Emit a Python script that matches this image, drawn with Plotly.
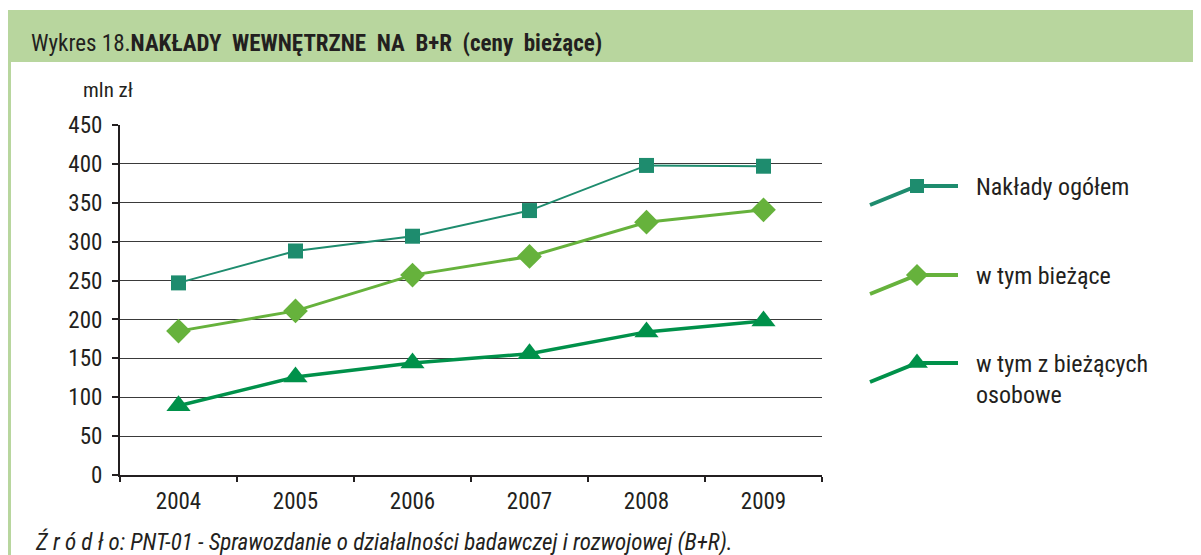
import plotly.graph_objects as go

W, H = 1201, 555
OFF = 8  # browser body margin: page px = figure px + OFF

years = ["2004", "2005", "2006", "2007", "2008", "2009"]
naklady_ogolem = [247, 288, 307, 340, 398, 397]
w_tym_biezace = [185, 211, 257, 281, 325, 341]
w_tym_osobowe = [89, 126, 144, 156, 184, 198]

series_names = ["Nakłady ogółem", "w tym bieżące", "w tym z bieżących<br>osobowe"]
y_ticks = [0, 50, 100, 150, 200, 250, 300, 350, 400, 450]

FONT = "Liberation Sans Narrow, Arial Narrow, Roboto Condensed, Liberation Sans, sans-serif"
TEXT = "#231f20"
C1, C2, C3 = "#1e8c6e", "#66b23c", "#00914a"
HEADER = "#b8d69e"


def px(v):
    return v - OFF


# plot area in page pixels
PL, PR, PT, PB = px(120), px(822), px(125), px(475)

fig = go.Figure()

# (values, colour, line width, symbol, plot marker size, legend marker size)
styles = [
    (naklady_ogolem, C1, 2, "square", 15, 14),
    (w_tym_biezace, C2, 3, "diamond", 19, 17),
    (w_tym_osobowe, C3, 3.5, "triangle-up", 21, 19),
]
for (vals, col, lw, sym, ms, lms), name in zip(styles, series_names):
    fig.add_trace(go.Scatter(
        x=years, y=vals, mode="lines+markers", name=name,
        line=dict(color=col, width=lw),
        marker=dict(symbol=sym, size=ms, color=col, line=dict(width=0)),
        showlegend=False, xaxis="x", yaxis="y", cliponaxis=False,
    ))

# legend built on a full-figure pixel axis
leg_rows = [186, 275, 363]
for (vals, col, lw, sym, ms, lms), ry in zip(styles, leg_rows):
    fig.add_trace(go.Scatter(
        x=[px(870), px(917), px(958)], y=[px(ry + 19), px(ry), px(ry)], mode="lines",
        line=dict(color=col, width=4), showlegend=False,
        xaxis="x2", yaxis="y2", hoverinfo="skip",
    ))
    fig.add_trace(go.Scatter(
        x=[px(917)], y=[px(ry)], mode="markers",
        marker=dict(symbol=sym, size=lms, color=col, line=dict(width=0)),
        showlegend=False, xaxis="x2", yaxis="y2", hoverinfo="skip",
    ))

annotations = []
for name, ry in zip(series_names, leg_rows):
    annotations.append(dict(
        x=px(974), y=px(ry - 15), xref="x2", yref="y2", text=name, showarrow=False,
        xanchor="left", yanchor="top", align="left",
        font=dict(family=FONT, size=24, color=TEXT),
    ))

annotations += [
    dict(x=px(29), y=px(43), xref="x2", yref="y2", showarrow=False, xanchor="left", yanchor="middle",
         text="Wykres 18.<b>NAKŁADY&#160; WEWNĘTRZNE&#160; NA&#160; B+R&#160; (ceny&#160; bieżące)</b>",
         font=dict(family=FONT, size=23, color=TEXT)),
    dict(x=px(81), y=px(90), xref="x2", yref="y2", showarrow=False, xanchor="left", yanchor="middle",
         text="mln zł", font=dict(family=FONT, size=21, color=TEXT)),
    dict(x=px(33), y=px(542), xref="x2", yref="y2", showarrow=False, xanchor="left", yanchor="middle",
         text="<i>Ź r ó d ł o: PNT-01 - Sprawozdanie o działalności badawczej i rozwojowej (B+R).</i>",
         font=dict(family=FONT, size=23, color=TEXT)),
]

shapes = [
    dict(type="rect", xref="x2", yref="y2", x0=px(8), x1=px(1201), y0=px(10), y1=px(62),
         fillcolor=HEADER, line=dict(width=0), layer="below"),
    dict(type="rect", xref="x2", yref="y2", x0=px(8), x1=px(11), y0=px(62), y1=px(555),
         fillcolor=HEADER, line=dict(width=0), layer="below"),
]

fig.update_layout(
    width=W, height=H, autosize=False,
    margin=dict(l=0, r=0, t=0, b=0, pad=0),
    paper_bgcolor="white", plot_bgcolor="rgba(0,0,0,0)",
    font=dict(family=FONT, color=TEXT),
    xaxis=dict(
        domain=[PL / W, PR / W], type="category", range=[-0.5, 5.5],
        tickson="boundaries", ticks="outside", ticklen=5, tickwidth=2, tickcolor="#231f20",
        showline=True, linecolor="#231f20", linewidth=2, showgrid=False, zeroline=False,
        tickfont=dict(family=FONT, size=23, color=TEXT), ticklabelstandoff=4,
        anchor="y", automargin=False,
    ),
    yaxis=dict(
        domain=[(H - PB) / H, (H - PT) / H], range=[0, 450],
        tickvals=y_ticks, ticks="outside", ticklen=6, tickwidth=2, tickcolor="#231f20",
        showline=True, linecolor="#231f20", linewidth=2,
        showgrid=True, gridcolor="#3a3a3a", gridwidth=1, zeroline=False,
        tickfont=dict(family=FONT, size=23, color=TEXT), ticklabelstandoff=5,
        anchor="x", automargin=False,
    ),
    xaxis2=dict(domain=[0, 1], range=[0, W], visible=False, anchor="y2", automargin=False),
    yaxis2=dict(domain=[0, 1], range=[H, 0], visible=False, anchor="x2", automargin=False),
    shapes=shapes,
    annotations=annotations,
)

fig.write_html("out.html")
